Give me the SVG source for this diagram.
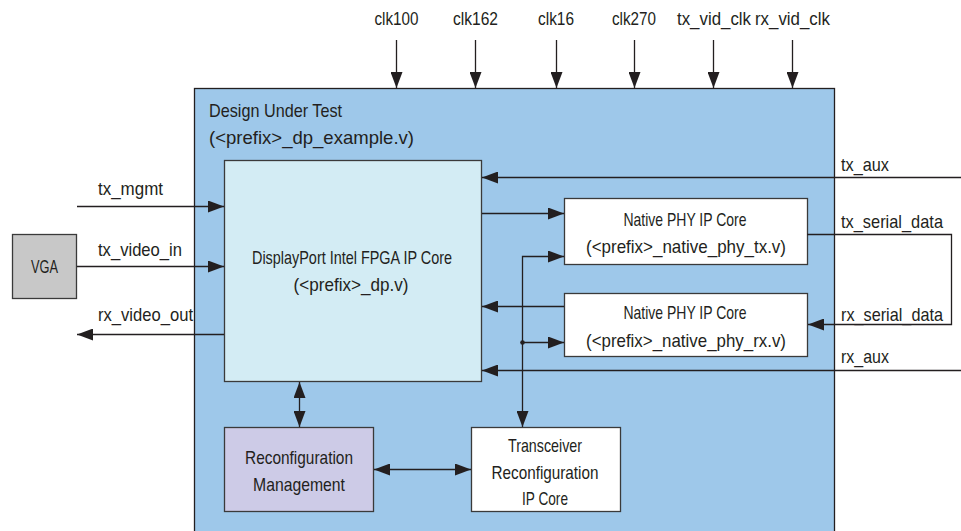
<svg xmlns="http://www.w3.org/2000/svg" width="961" height="531" viewBox="0 0 961 531">
<style>
text{font-family:"Liberation Sans",Arial,sans-serif;font-size:19px;fill:#231f20}
.c{text-anchor:middle}
.ln{stroke:#231f20;stroke-width:1.3;fill:none}
.box{stroke:#3a3a3a;stroke-width:1.3}
</style>
<defs>
<marker id="ah" markerUnits="userSpaceOnUse" markerWidth="16" markerHeight="12" refX="16" refY="6" orient="auto-start-reverse">
<path d="M0,0 L16,6 L0,12 z" fill="#231f20"/>
</marker>
</defs>
<rect width="961" height="531" fill="#ffffff"/>
<g id="dut">
<rect x="194.5" y="88.5" width="640" height="470" fill="#9ec8ea" stroke="#231f20" stroke-width="1.3"/>
<text x="209" y="117" textLength="133" lengthAdjust="spacingAndGlyphs">Design Under Test</text>
<text x="209" y="144" textLength="205" lengthAdjust="spacingAndGlyphs">(&lt;prefix&gt;_dp_example.v)</text>
</g>
<g id="vga">
<rect class="box" x="12.5" y="234.5" width="64" height="64" fill="#c8c8c8"/>
<text class="c" x="44.5" y="273" textLength="27" lengthAdjust="spacingAndGlyphs">VGA</text>
</g>
<g id="dp_core">
<rect class="box" x="224.5" y="160.5" width="257" height="221" fill="#d3ecf4"/>
<text class="c" x="352" y="264" textLength="200" lengthAdjust="spacingAndGlyphs">DisplayPort Intel FPGA IP Core</text>
<text class="c" x="351" y="291" textLength="115" lengthAdjust="spacingAndGlyphs">(&lt;prefix&gt;_dp.v)</text>
</g>
<g id="phy_tx">
<rect class="box" x="564.5" y="198.5" width="243" height="66" fill="#ffffff"/>
<text class="c" x="685" y="226" textLength="123" lengthAdjust="spacingAndGlyphs">Native PHY IP Core</text>
<text class="c" x="686" y="253" textLength="200" lengthAdjust="spacingAndGlyphs">(&lt;prefix&gt;_native_phy_tx.v)</text>
</g>
<g id="phy_rx">
<rect class="box" x="564.5" y="293.5" width="243" height="63" fill="#ffffff"/>
<text class="c" x="685" y="319" textLength="123" lengthAdjust="spacingAndGlyphs">Native PHY IP Core</text>
<text class="c" x="686" y="347" textLength="200" lengthAdjust="spacingAndGlyphs">(&lt;prefix&gt;_native_phy_rx.v)</text>
</g>
<g id="reconfig_mgmt">
<rect class="box" x="224.5" y="427.5" width="149" height="84" fill="#cdcbe7"/>
<text class="c" x="299" y="464" textLength="108" lengthAdjust="spacingAndGlyphs">Reconfiguration</text>
<text class="c" x="299" y="491" textLength="92" lengthAdjust="spacingAndGlyphs">Management</text>
</g>
<g id="xcvr_reconfig">
<rect class="box" x="471.5" y="427.5" width="149" height="84" fill="#ffffff"/>
<text class="c" x="545" y="452" textLength="74" lengthAdjust="spacingAndGlyphs">Transceiver</text>
<text class="c" x="545" y="479" textLength="107" lengthAdjust="spacingAndGlyphs">Reconfiguration</text>
<text class="c" x="545" y="505" textLength="46" lengthAdjust="spacingAndGlyphs">IP Core</text>
</g>
<g id="connectors">
<line class="ln" x1="396.5" y1="40" x2="396.5" y2="88" marker-end="url(#ah)"/>
<line class="ln" x1="475.5" y1="40" x2="475.5" y2="88" marker-end="url(#ah)"/>
<line class="ln" x1="556.5" y1="40" x2="556.5" y2="88" marker-end="url(#ah)"/>
<line class="ln" x1="634.5" y1="40" x2="634.5" y2="88" marker-end="url(#ah)"/>
<line class="ln" x1="713.5" y1="40" x2="713.5" y2="88" marker-end="url(#ah)"/>
<line class="ln" x1="792.5" y1="40" x2="792.5" y2="88" marker-end="url(#ah)"/>
<line class="ln" x1="77" y1="206.5" x2="224" y2="206.5" marker-end="url(#ah)"/>
<line class="ln" x1="77" y1="266.5" x2="224" y2="266.5" marker-end="url(#ah)"/>
<line class="ln" x1="224" y1="334.5" x2="77" y2="334.5" marker-end="url(#ah)"/>
<line class="ln" x1="961" y1="177.5" x2="482" y2="177.5" marker-end="url(#ah)"/>
<line class="ln" x1="482" y1="213.5" x2="564" y2="213.5" marker-end="url(#ah)"/>
<line class="ln" x1="564" y1="306.5" x2="482" y2="306.5" marker-end="url(#ah)"/>
<line class="ln" x1="961" y1="370.5" x2="482" y2="370.5" marker-end="url(#ah)"/>
<polyline class="ln" points="807,234.5 951.5,234.5 951.5,324.5 808,324.5" marker-end="url(#ah)"/>
<polyline class="ln" points="564,256.5 522.5,256.5 522.5,427" marker-start="url(#ah)" marker-end="url(#ah)"/>
<line class="ln" x1="522.5" y1="342.5" x2="564" y2="342.5" marker-end="url(#ah)"/>
<circle cx="522.5" cy="342.5" r="2.3" fill="#231f20"/>
<line class="ln" x1="299.5" y1="382" x2="299.5" y2="427" marker-start="url(#ah)" marker-end="url(#ah)"/>
<line class="ln" x1="374" y1="469.5" x2="471" y2="469.5" marker-start="url(#ah)" marker-end="url(#ah)"/>
</g>
<g id="labels">
<text class="c" x="396.5" y="25" textLength="44" lengthAdjust="spacingAndGlyphs">clk100</text>
<text class="c" x="475.5" y="25" textLength="45" lengthAdjust="spacingAndGlyphs">clk162</text>
<text class="c" x="556" y="25" textLength="36" lengthAdjust="spacingAndGlyphs">clk16</text>
<text class="c" x="634" y="25" textLength="44" lengthAdjust="spacingAndGlyphs">clk270</text>
<text class="c" x="714" y="25" textLength="74" lengthAdjust="spacingAndGlyphs">tx_vid_clk</text>
<text class="c" x="792.5" y="25" textLength="75" lengthAdjust="spacingAndGlyphs">rx_vid_clk</text>
<text x="98" y="195" textLength="65" lengthAdjust="spacingAndGlyphs">tx_mgmt</text>
<text x="98" y="256" textLength="84" lengthAdjust="spacingAndGlyphs">tx_video_in</text>
<text x="98" y="321" textLength="95" lengthAdjust="spacingAndGlyphs">rx_video_out</text>
<text x="841" y="171" textLength="48" lengthAdjust="spacingAndGlyphs">tx_aux</text>
<text x="841" y="228" textLength="102" lengthAdjust="spacingAndGlyphs">tx_serial_data</text>
<text x="841" y="321" textLength="102" lengthAdjust="spacingAndGlyphs">rx_serial_data</text>
<text x="841" y="363" textLength="48" lengthAdjust="spacingAndGlyphs">rx_aux</text>
</g>
</svg>
